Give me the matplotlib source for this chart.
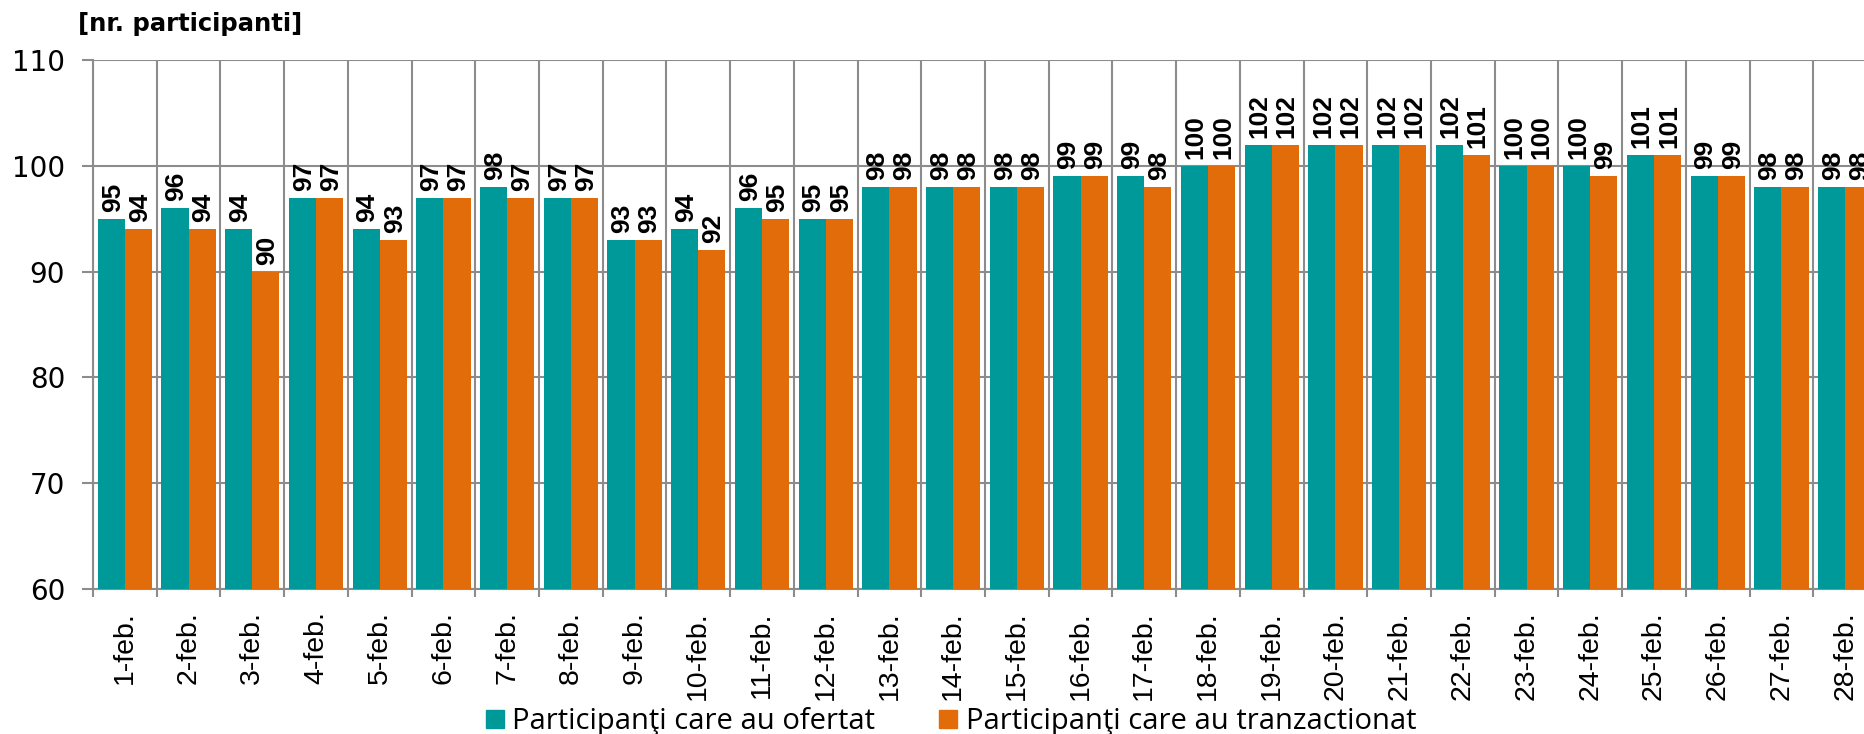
import numpy as np
import matplotlib
matplotlib.use('Agg')
from matplotlib import pyplot as plt
from matplotlib.patches import Patch

# data
zile = ['%d-feb.' % d for d in range(1, 29)]
ofertat = [95, 96, 94, 97, 94, 97, 98, 97, 93, 94, 96, 95, 98, 98,
           98, 99, 99, 100, 102, 102, 102, 102, 100, 100, 101, 99, 98, 98]
tranzactionat = [94, 94, 90, 97, 93, 97, 97, 97, 93, 92, 95, 95, 98, 98,
                 98, 99, 98, 100, 102, 102, 102, 101, 100, 99, 101, 99, 98, 98]
y_ticks = [60, 70, 80, 90, 100, 110]

teal = '#009999'
orange = '#E36C0A'
grid = '#8c8c8c'

fig = plt.figure(figsize=(18.65, 7.34), dpi=100)
# plot area runs past the right edge, like the reference
ax = fig.add_axes([93 / 1865, 145 / 734, 1784 / 1865, 529 / 734])

x = np.arange(len(zile))
w = 0.425
b1 = ax.bar(x - w / 2, np.array(ofertat) - 60, w, bottom=60, color=teal, zorder=3)
b2 = ax.bar(x + w / 2, np.array(tranzactionat) - 60, w, bottom=60, color=orange, zorder=3)

# value labels
for bars, vals in ((b1, ofertat), (b2, tranzactionat)):
    for r, v in zip(bars, vals):
        ax.annotate(str(v), (r.get_x() + r.get_width() / 2, v),
                    xytext=(1, 5), textcoords='offset points',
                    rotation=90, ha='center', va='bottom',
                    fontsize=19, fontweight='bold', family='Liberation Sans',
                    zorder=5)

ax.set_xlim(-0.5, len(zile) - 0.5)
ax.set_ylim(60, 110)
ax.set_yticks(y_ticks)
ax.set_yticklabels([str(t) for t in y_ticks], fontsize=20, family='DejaVu Sans')

ax.set_xticks(x)
ax.set_xticklabels(zile, rotation=90, fontsize=20.5, family='Liberation Sans')
ax.set_xticks(np.arange(len(zile) + 1) - 0.5, minor=True)
ax.tick_params(axis='x', which='major', length=0, pad=16)
ax.tick_params(axis='x', which='minor', length=6, width=1.5, color=grid)
ax.tick_params(axis='y', length=8, width=1.5, color=grid, pad=12)

ax.grid(True, which='minor', axis='x', color=grid, linewidth=1.5, zorder=0)
ax.grid(True, which='major', axis='y', color=grid, linewidth=1.5, zorder=0)
ax.set_axisbelow(True)

for s in ['top', 'right']:
    ax.spines[s].set_visible(False)
for s in ['left', 'bottom']:
    ax.spines[s].set_color(grid)
    ax.spines[s].set_linewidth(1.5)

fig.text(78 / 1865, 1 - 24 / 734, '[nr. participanti]', fontsize=17.5,
         fontweight='bold', family='DejaVu Sans', va='center', ha='left')

handles = [Patch(color=teal), Patch(color=orange)]
fig.legend(handles, ['Participanţi care au ofertat', 'Participanţi care au tranzactionat'],
           loc='center', bbox_to_anchor=(0.51, 1 - 722 / 734), ncol=2,
           frameon=False, handlelength=0.6, handleheight=0.6, handletextpad=0.3,
           columnspacing=2.2, borderpad=0, prop={'family': 'Open Sans', 'size': 21})

fig.savefig('out.png', dpi=100)
